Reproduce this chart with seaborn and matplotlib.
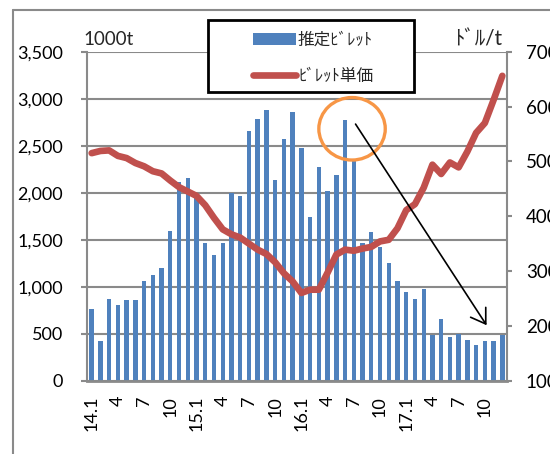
import numpy as np
import pandas as pd
import matplotlib
matplotlib.use("Agg")
import matplotlib.pyplot as plt
import seaborn as sns
from matplotlib.patches import Rectangle, Ellipse
from matplotlib.lines import Line2D
from matplotlib.ticker import FuncFormatter

# ---------------- data ----------------
years = [14, 15, 16, 17]
periods = [f"{y}.{m}" for y in years for m in range(1, 13)]

billet_volume = [  # 1000t (left axis)
    760, 420, 870, 810, 860, 860, 1060, 1120, 1200, 1590, 2115, 2160,
    1950, 1470, 1340, 1460, 2000, 1965, 2655, 2785, 2885, 2130, 2570, 2855,
    2475, 1740, 2275, 2015, 2185, 2770, 2350, 1470, 1585, 1420, 1250, 1065,
    945, 870, 975, 490, 655, 470, 500, 435, 385, 420, 420, 490,
]
billet_price = [  # $/t (right axis)
    515, 519, 520, 510, 506, 497, 491, 482, 478, 465, 453, 445,
    437, 420, 397, 376, 367, 361, 350, 339, 331, 316, 296, 281,
    260, 266, 266, 297, 330, 339, 337, 341, 344, 354, 357, 378,
    411, 422, 452, 494, 477, 498, 489, 518, 552, 570, 612, 656,
]
xtick_labels = ["14.1", "4", "7", "10", "15.1", "4", "7", "10",
                "16.1", "4", "7", "10", "17.1", "4", "7", "10"]
legend_labels = ["推定ﾋﾞﾚｯﾄ", "ﾋﾞﾚｯﾄ単価"]
left_unit = "1000t"
right_unit = "ﾄﾞﾙ/t"

df = pd.DataFrame({"period": periods, "volume": billet_volume,
                   "idx": np.arange(len(periods)), "price": billet_price})

# ---------------- style ----------------
sns.set_style("white")
plt.rcParams["font.family"] = ["Lato", "Noto Sans CJK JP", "DejaVu Sans"]

BLUE = "#4F81BD"
RED = "#C0504D"
GREY = "#8a8a8a"
W, H = 550, 454

fig = plt.figure(figsize=(W / 100, H / 100), dpi=100)
ax = fig.add_axes([87.3 / W, 1 - 380.7 / H, (506.7 - 87.3) / W, (380.7 - 51.7) / H])

sns.barplot(data=df, x="period", y="volume", color=BLUE, width=0.5,
            saturation=1, linewidth=0, ax=ax, zorder=2)
ax.set_ylim(0, 3500)
ax.set_xlim(-0.5, len(periods) - 0.5)
ax.set_yticks(np.arange(0, 3501, 500))
ax.yaxis.set_major_formatter(FuncFormatter(lambda v, p: f"{v:,.0f}"))
ax.yaxis.grid(True, color=GREY, linewidth=1.5)
ax.set_axisbelow(True)
ax.set_xlabel("")
ax.set_ylabel("")

ax.set_xticks(np.arange(0, len(periods), 3))
ax.set_xticklabels(xtick_labels, rotation=90, fontsize=13)
ax.set_xticks(np.arange(-0.5, len(periods), 1), minor=True)
ax.tick_params(axis="x", which="major", length=0, pad=11, labelcolor="black")
ax.tick_params(axis="x", which="minor", length=3.8, width=1.5, color=GREY)
ax.tick_params(axis="y", length=4.3, width=1.5, color=GREY, pad=13,
               labelsize=13, labelcolor="black")

for s in ["top", "right"]:
    ax.spines[s].set_visible(False)
ax.spines["left"].set_color(GREY)
ax.spines["left"].set_linewidth(1.5)
ax.spines["bottom"].set_color(GREY)
ax.spines["bottom"].set_linewidth(2.0)

ax2 = ax.twinx()
sns.lineplot(data=df, x="idx", y="price", color=RED, linewidth=4.8, ax=ax2,
             solid_joinstyle="round", solid_capstyle="round")
ax2.set_ylim(100, 700)
ax2.set_xlim(-0.5, len(periods) - 0.5)
ax2.set_yticks(np.arange(100, 701, 100))
ax2.set_xlabel("")
ax2.set_ylabel("")
ax2.tick_params(axis="y", length=3.8, width=1.5, color=GREY, pad=10,
                labelsize=13.5, labelcolor="black")
for s in ["top", "left", "bottom"]:
    ax2.spines[s].set_visible(False)
ax2.spines["right"].set_color(GREY)
ax2.spines["right"].set_linewidth(1.5)

# annotations (drawn in left-axis data coordinates)
ell = Ellipse((29.8, 2680), 7.6, 665, transform=ax.transData, fill=False,
              edgecolor="#F79646", linewidth=2.4, zorder=10, clip_on=False)
ax2.add_patch(ell)
ax2.annotate("", xy=(45.2, 590), xytext=(30.2, 2730),
             xycoords=ax.transData, textcoords=ax.transData,
             arrowprops=dict(arrowstyle="->,head_length=1.0,head_width=0.65",
                             color="black", linewidth=1.2,
                             shrinkA=0, shrinkB=0), zorder=11)

# outer chart border
fig.add_artist(Line2D([13 / W, 13 / W], [0, 1 - 10 / H], transform=fig.transFigure,
                      color=GREY, linewidth=1.5))
fig.add_artist(Line2D([13 / W, 1], [1 - 10 / H, 1 - 10 / H], transform=fig.transFigure,
                      color=GREY, linewidth=1.5))

# unit labels
fig.text(83 / W, 1 - 45 / H, left_unit, ha="left", va="baseline", fontsize=13.5)
fig.text(502 / W, 1 - 45 / H, right_unit, ha="right", va="baseline", fontsize=15)

# legend box
fig.add_artist(Rectangle((208 / W, 1 - 92 / H), (414 - 208) / W, (92 - 19.5) / H,
                         transform=fig.transFigure, facecolor="white",
                         edgecolor="black", linewidth=2.0, zorder=4))
bar_handle = ax.containers[0]
line_handle = ax2.lines[0]
leg = fig.legend([bar_handle, line_handle], legend_labels, loc="upper left",
                 bbox_to_anchor=(253 / W, 1 - 31.5 / H), frameon=False,
                 handlelength=2.55, handletextpad=0.15, labelspacing=1.2,
                 fontsize=12, borderpad=0, borderaxespad=0)
leg.set_zorder(5)

fig.savefig("out.png", dpi=100)
